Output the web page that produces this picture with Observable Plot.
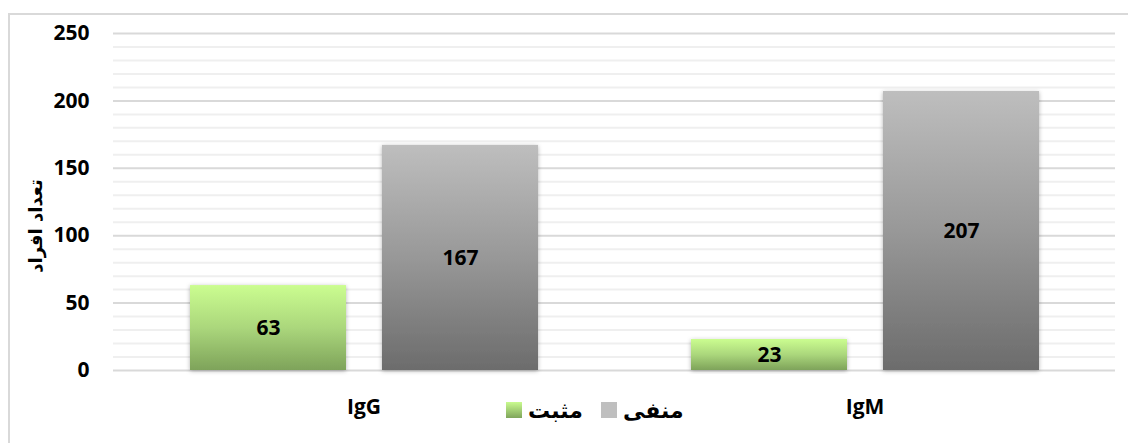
<!DOCTYPE html>
<html><head><meta charset="utf-8">
<script src="https://cdn.jsdelivr.net/npm/d3@7"></script>
<script src="https://cdn.jsdelivr.net/npm/@observablehq/plot@0.6"></script>
<style>
html,body{margin:0;padding:0;background:#fff;overflow:hidden;}
#wrap{position:relative;width:1128px;height:443px;overflow:hidden;}
#frame{position:absolute;left:8px;top:13px;width:1200px;height:500px;border:2px solid #d9d9d9;box-sizing:border-box;}
#chart{position:absolute;left:0;top:0;}
#ytitle{position:absolute;left:35px;top:226px;transform:translate(-50%,-50%) rotate(-90deg);font:bold 18px "DejaVu Sans";white-space:nowrap;direction:rtl;color:#000;}
#legend{position:absolute;left:506px;top:396px;height:28px;display:flex;align-items:center;font:bold 22px "DejaVu Sans";color:#000;}
.item{display:flex;align-items:center;margin-right:18px;}
.sw{width:16px;height:16px;display:inline-block;margin-right:6px;}
</style></head>
<body>
<div id="wrap">
  <div id="frame"></div>
  <div id="chart"></div>
  <div id="ytitle"></div>
  <div id="legend"></div>
</div>
<script>
const categories = ["IgG", "IgM"];
const series = ["مثبت", "منفی"];
const positive = [63, 23];
const negative = [167, 207];
const yTicks = [0, 50, 100, 150, 200, 250];
const minorTicks = [10, 20, 30, 40, 60, 70, 80, 90, 110, 120, 130, 140, 160, 170, 180, 190, 210, 220, 230, 240];
const yTitle = "تعداد افراد";
const seriesSwatch = ["linear-gradient(#c9fb8f,#7fa55b)", "#bfbfbf"];

const rows = [];
categories.forEach((c, i) => {
  rows.push({category: c, series: series[0], value: positive[i]});
  rows.push({category: c, series: series[1], value: negative[i]});
});

const svg = Plot.plot({
  width: 1128, height: 443,
  marginLeft: 113, marginRight: 13, marginTop: 33, marginBottom: 73,
  style: {fontFamily: "'Open Sans', Lato, sans-serif", fontSize: "21px", fontWeight: "bold", color: "#000", background: "transparent", overflow: "visible"},
  fx: {domain: categories, padding: 0, axis: "bottom", tickSize: 0, tickPadding: 29, label: null},
  x: {domain: series, axis: null, paddingInner: 0.1875, paddingOuter: 0.398},
  y: {domain: [0, 250], ticks: yTicks, tickSize: 0, tickPadding: 24, label: null},
  color: {domain: series, range: ["url(#gradPos)", "url(#gradNeg)"]},
  marks: [
    Plot.ruleY(minorTicks, {stroke: "#efefef", strokeWidth: 2}),
    Plot.ruleY(yTicks, {stroke: "#d9d9d9", strokeWidth: 2}),
    Plot.barY(rows, {fx: "category", x: "series", y: "value", fill: "series"}),
    Plot.text(rows, {fx: "category", x: "series", y: d => d.value / 2, text: d => String(d.value), fill: "#000"})
  ]
});

const defs = d3.select(svg).insert("defs", ":first-child");
function grad(id, top, mid, bottom) {
  const g = defs.append("linearGradient").attr("id", id).attr("x1", 0).attr("y1", 0).attr("x2", 0).attr("y2", 1);
  g.append("stop").attr("offset", "0%").attr("stop-color", top);
  g.append("stop").attr("offset", "50%").attr("stop-color", mid);
  g.append("stop").attr("offset", "100%").attr("stop-color", bottom);
}
grad("gradPos", "#cbfd90", "#abd77c", "#7ea35a");
grad("gradNeg", "#bebebe", "#989898", "#6c6c6c");
const f = defs.append("filter").attr("id", "shadow").attr("x", "-10%").attr("y", "-10%").attr("width", "120%").attr("height", "120%");
f.append("feDropShadow").attr("dx", 0).attr("dy", 1).attr("stdDeviation", 2).attr("flood-color", "#000").attr("flood-opacity", 0.3);
d3.select(svg).selectAll("g[aria-label='bar'] rect").attr("filter", "url(#shadow)");

document.getElementById("chart").appendChild(svg);
document.getElementById("ytitle").textContent = yTitle;

const legend = document.getElementById("legend");
series.forEach((s, i) => {
  const item = document.createElement("div");
  item.className = "item";
  const sw = document.createElement("span");
  sw.className = "sw";
  sw.style.background = seriesSwatch[i];
  const t = document.createElement("span");
  t.textContent = s;
  item.appendChild(sw);
  item.appendChild(t);
  legend.appendChild(item);
});
</script>
</body></html>
